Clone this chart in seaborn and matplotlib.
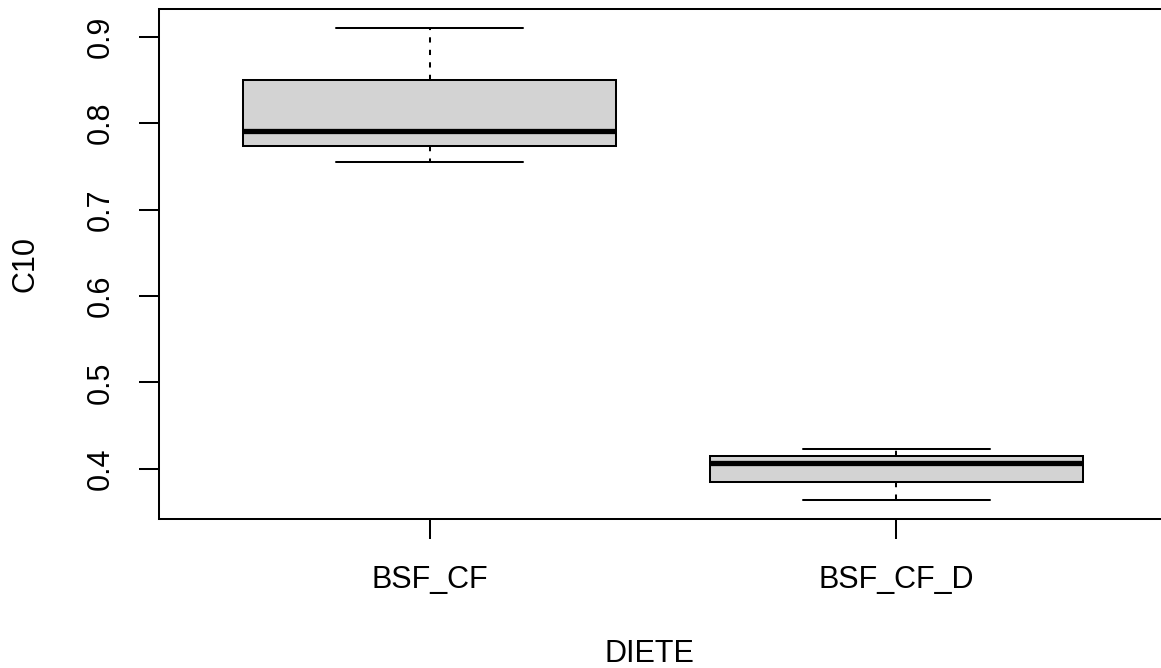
import numpy as np
import pandas as pd
import matplotlib
matplotlib.use("Agg")
import matplotlib.pyplot as plt
import seaborn as sns

# Five-number summaries of C10 for each diet
categories = ["BSF_CF", "BSF_CF_D"]
bsf_cf = [0.755, 0.773, 0.791, 0.850, 0.910]
bsf_cf_d = [0.364, 0.385, 0.407, 0.415, 0.423]
y_ticks = [0.4, 0.5, 0.6, 0.7, 0.8, 0.9]

df = pd.DataFrame({
    "DIETE": [categories[0]] * len(bsf_cf) + [categories[1]] * len(bsf_cf_d),
    "C10": bsf_cf + bsf_cf_d,
})

sns.set_style("ticks")
plt.rcParams["font.family"] = ["Liberation Sans", "DejaVu Sans"]

W, H = 1161, 668
fig = plt.figure(figsize=(W / 100, H / 100), dpi=100)
left_px, right_px, top_px, bottom_px = 159, 1167, 9, 519
ax = fig.add_axes([left_px / W, (H - bottom_px) / H,
                   (right_px - left_px) / W, (bottom_px - top_px) / H])

lw = 1.45
sns.boxplot(
    data=df, x="DIETE", y="C10", order=categories, ax=ax,
    color="#D3D3D3", saturation=1, width=0.8, linecolor="black",
    linewidth=lw, whis=1.5,
    boxprops=dict(edgecolor="black", linewidth=lw),
    medianprops=dict(color="black", linewidth=3.8, solid_capstyle="butt"),
    whiskerprops=dict(color="black", linewidth=lw, linestyle=(0, (2.6, 3.6))),
    capprops=dict(color="black", linewidth=lw),
)

# Axis ranges padded 4% around the data, as in base R graphics
ymin, ymax = df["C10"].min(), df["C10"].max()
pad = 0.04 * (ymax - ymin)
ax.set_ylim(ymin - pad, ymax + pad)
ax.set_xlim(-0.58, 1.58)

ax.set_yticks(y_ticks)
ax.set_yticklabels([f"{v:.1f}" for v in y_ticks])
for s in ax.spines.values():
    s.set_visible(True)
    s.set_linewidth(1.45)
    s.set_color("black")
# the plot box runs past the right edge of the figure
ax.spines["right"].set_visible(False)

ax.tick_params(axis="both", length=14.4, width=1.45, color="black",
               labelsize=22, labelcolor="black")
ax.tick_params(axis="y", pad=16.5, labelrotation=90)
ax.tick_params(axis="x", pad=19)
for lab in ax.get_yticklabels():
    lab.set_va("center")

ax.set_xlabel("DIETE", fontsize=22, color="black")
ax.set_ylabel("C10", fontsize=22, color="black")
ax.xaxis.set_label_coords(0.487, -0.235)
ax.yaxis.set_label_coords(-0.118, 0.5)

fig.savefig("out.png", dpi=100, facecolor="white")
